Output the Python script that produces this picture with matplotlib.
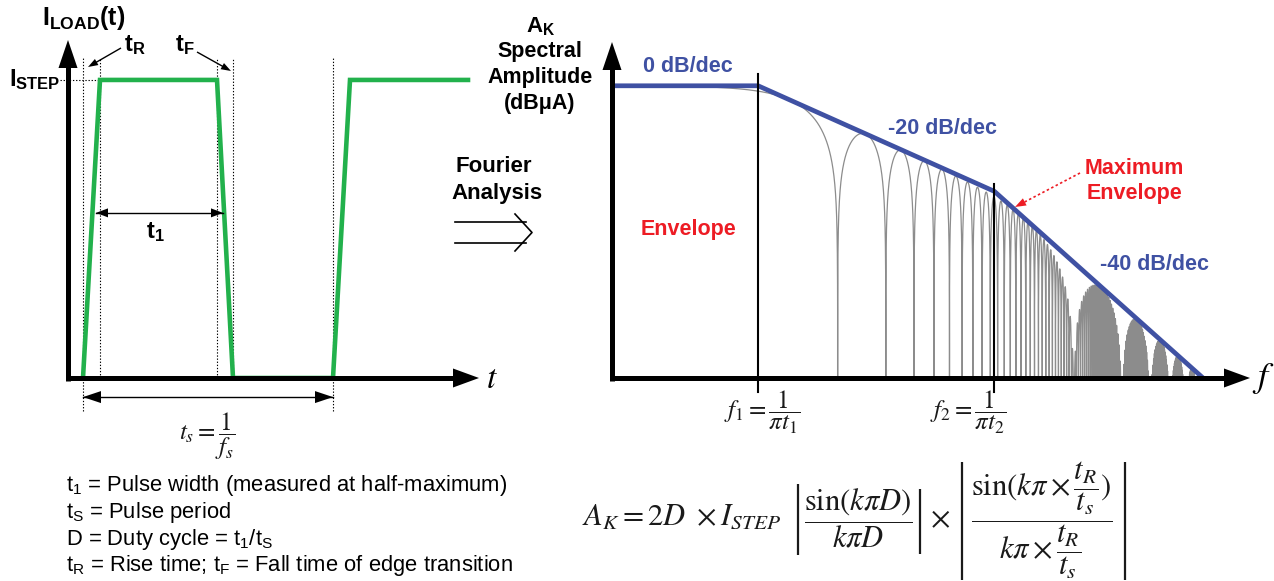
import numpy as np
import matplotlib
matplotlib.use("Agg")
import matplotlib.pyplot as plt

# ── figure / fonts ────────────────────────────────────────────────────────────
W, H = 1274, 581
plt.rcParams["font.family"] = ["Liberation Sans", "DejaVu Sans"]
plt.rcParams["mathtext.fontset"] = "custom"
plt.rcParams["mathtext.rm"] = "Liberation Sans"
plt.rcParams["mathtext.bf"] = "Liberation Sans:bold"
plt.rcParams["mathtext.it"] = "Liberation Sans:italic"

GREEN = "#22b14c"
BLUE = "#3f51a3"
RED = "#ed1c24"
GRAY = "#8c8c8c"
INK = "#1a1a1a"

# ── data: load-current pulse train (time in periods, current in I_STEP) ──────
PULSE_T = [0.0, 0.068, 0.536, 0.600, 1.000, 1.068, 1.540]
PULSE_I = [0.0, 1.0, 1.0, 0.0, 0.0, 1.0, 1.0]
EDGE_T = [0.0, 0.068, 0.536, 0.600, 1.000]        # dotted markers
T1_SPAN = [0.052, 0.560]                            # pulse width arrow
TS_SPAN = [0.0, 1.0]                                # period arrow

# ── data: spectral envelope (f normalised to f1, amplitude in dB) ────────────
F1 = 1.0
F2 = 30.0
ENV_F = [0.122, F1, F2, 603.0]
ENV_DB = [0.0, 0.0, -29.5, -81.6]

TEXT_LINES = [
    r"t$_1$ = Pulse width (measured at half-maximum)",
    r"t$_\mathrm{S}$ = Pulse period",
    r"D = Duty cycle = t$_1$/t$_\mathrm{S}$",
    r"t$_\mathrm{R}$ = Rise time; t$_\mathrm{F}$ = Fall time of edge transition",
]

fig = plt.figure(figsize=(W / 100, H / 100), dpi=100)


def box(l, t, r, b):
    return [l / W, 1 - b / H, (r - l) / W, (b - t) / H]


axL = fig.add_axes(box(68, 40, 478, 378))
axL.set_xlim(-0.06, 1.58)
axL.set_ylim(0, 1.134)
axL.axis("off")

axS = fig.add_axes(box(612, 50, 1248, 378))
axS.set_xscale("log")
axS.set_xlim(0.122, 1155)
axS.set_ylim(-81.65, 10)
axS.axis("off")

ov = fig.add_axes([0, 0, 1, 1])
ov.set_xlim(0, W)
ov.set_ylim(H, 0)
ov.axis("off")


def to_px(ax, x, y):
    X, Y = ax.transData.transform((x, y))
    return X, H - Y


def head(tip, d, length, width, color="black"):
    tx, ty = tip
    dx, dy = d
    n = np.hypot(dx, dy)
    dx, dy = dx / n, dy / n
    bx, by = tx - dx * length, ty - dy * length
    px, py = -dy * width / 2, dx * width / 2
    ov.fill([tx, bx + px, bx - px], [ty, by + py, by - py], color=color, lw=0, zorder=6)


def arrow(p0, p1, lw, length, width, color="black", ls="-"):
    d = (p1[0] - p0[0], p1[1] - p0[1])
    n = np.hypot(*d)
    end = (p1[0] - d[0] / n * length * 0.8, p1[1] - d[1] / n * length * 0.8)
    ov.plot([p0[0], end[0]], [p0[1], end[1]], color=color, lw=lw, ls=ls,
            solid_capstyle="butt", zorder=5)
    head(p1, d, length, width, color)


def dbl_arrow(p0, p1, lw, length, width):
    d = (p1[0] - p0[0], p1[1] - p0[1])
    ov.plot([p0[0], p1[0]], [p0[1], p1[1]], color="black", lw=lw, zorder=5)
    head(p1, d, length, width)
    head(p0, (-d[0], -d[1]), length, width)


# ── left panel ────────────────────────────────────────────────────────────────
for t in EDGE_T:
    lo = -0.11 if t in (EDGE_T[0], EDGE_T[-1]) else 0.0
    axL.plot([t, t], [lo, 1.074], color="black", lw=0.8, ls=(0, (1.2, 1.6)),
             clip_on=False, zorder=1)
axL.plot([-0.092, PULSE_T[1]], [1, 1], color="black", lw=0.8, ls=(0, (1.2, 1.6)),
         clip_on=False, zorder=1)
axL.plot(PULSE_T, PULSE_I, color=GREEN, lw=3.3, clip_on=False, zorder=3,
         solid_joinstyle="miter")

# axes arrows (left)
ov.plot([68, 68], [381, 62], color="black", lw=3.6, solid_capstyle="butt")
head((68, 40), (0, -1), 28, 19)
ov.plot([66, 456], [378, 378], color="black", lw=3.6, solid_capstyle="butt")
head((479, 378), (1, 0), 26, 19)
ov.text(492, 379, r"$t$", math_fontfamily="stix", fontsize=24, ha="center",
        va="center")

# t1 and ts spans
a = to_px(axL, T1_SPAN[0], 0.554)
b = to_px(axL, T1_SPAN[1], 0.554)
dbl_arrow(a, b, 1.0, 12, 9)
a = to_px(axL, TS_SPAN[0], -0.064)
b = to_px(axL, TS_SPAN[1], -0.064)
dbl_arrow(a, b, 1.0, 18, 12)

# rise / fall annotations
arrow((121, 48), (88, 67), 1.0, 10, 7)
arrow((197, 52), (231, 71), 1.0, 10, 7)

ov.text(84, 18, r"$\mathbf{I_{LOAD}(t)}$", fontsize=18, ha="center", va="center")
ov.text(135, 45, r"$\mathbf{t_R}$", fontsize=17, ha="center", va="center")
ov.text(185, 45, r"$\mathbf{t_F}$", fontsize=17, ha="center", va="center")
ov.text(35, 80, r"$\mathbf{I_{STEP}}$", fontsize=17, ha="center", va="center")
ov.text(155, 232, r"$\mathbf{t_1}$", fontsize=17, ha="center", va="center")
ov.text(207, 436, r"$t_s = \dfrac{1}{f_s}$", math_fontfamily="stix", fontsize=18,
        ha="center", va="center", color=INK)

for i, line in enumerate(TEXT_LINES):
    ov.text(66, 486 + i * 26.5, line, fontsize=15.8, ha="left", va="center")

# ── Fourier analysis arrow ────────────────────────────────────────────────────
ov.text(494, 167, "Fourier", fontsize=16, fontweight="bold", ha="center", va="center")
ov.text(497, 194, "Analysis", fontsize=16, fontweight="bold", ha="center", va="center")
ov.plot([455, 526], [222, 222], color="black", lw=1.2)
ov.plot([455, 526], [243, 243], color="black", lw=1.2)
ov.plot([515, 532, 515], [214, 232.5, 251], color="black", lw=1.2)

# ── right panel: spectrum ─────────────────────────────────────────────────────
# grey curve = the A_K expression shown on the chart (continuous in f),
# with its nulls added explicitly so they reach the axis
f = np.concatenate([
    np.geomspace(ENV_F[0], 1155, 6000),
    np.linspace(ENV_F[0], 1155, 400000),
    np.arange(1, 400) * np.pi * F1,
    np.arange(1, 15) * np.pi * F2,
])
f = np.sort(f)
g = np.abs(np.sinc(f / (np.pi * F1))) * np.abs(np.sinc(f / (np.pi * F2)))
g_db = 20 * np.log10(np.maximum(g, 1e-12))
axS.plot(f, g_db, color=GRAY, lw=0.9, zorder=1)
axS.plot(ENV_F, ENV_DB, color=BLUE, lw=3.4, zorder=3, solid_capstyle="butt")
axS.plot([F1, F1], [3.4, -85.6], color="black", lw=1.5, clip_on=False, zorder=4)
axS.plot([F2, F2], [-27.4, -85.6], color="black", lw=1.5, clip_on=False, zorder=4)

# axes arrows (right)
ov.plot([612, 612], [381, 62], color="black", lw=3.6, solid_capstyle="butt")
head((612, 42), (0, -1), 28, 19)
ov.plot([610, 1226], [378, 378], color="black", lw=3.6, solid_capstyle="butt")
head((1250, 378), (1, 0), 26, 19)
ov.text(1263, 379, r"$f$", math_fontfamily="stix", fontsize=26, ha="center",
        va="center")

ov.text(541, 27, r"$\mathbf{A_K}$", fontsize=16, ha="center", va="center")
for y, s in zip([51, 78, 104], ["Spectral", "Amplitude", "(dBμA)"]):
    ov.text(540, y, s, fontsize=15.5, fontweight="bold", ha="center", va="center")

ov.text(688, 67, "0 dB/dec", color=BLUE, fontsize=15.5, fontweight="bold",
        ha="center", va="center")
ov.text(942, 128, "-20 dB/dec", color=BLUE, fontsize=15.5, fontweight="bold",
        ha="center", va="center")
ov.text(1155, 265, "-40 dB/dec", color=BLUE, fontsize=15.5, fontweight="bold",
        ha="center", va="center")
ov.text(688, 230, "Envelope", color=RED, fontsize=15.5, fontweight="bold",
        ha="center", va="center")
ov.text(1134, 168, "Maximum", color=RED, fontsize=15.5, fontweight="bold",
        ha="center", va="center")
ov.text(1134, 194, "Envelope", color=RED, fontsize=15.5, fontweight="bold",
        ha="center", va="center")
arrow((1080, 173), (1015, 207), 1.2, 11, 8, color=RED, ls=(0, (1.5, 1.5)))

ov.text(762, 412, r"$f_1 = \dfrac{1}{\pi t_1}$", math_fontfamily="stix",
        fontsize=18, ha="center", va="center", color=INK)
ov.text(968, 412, r"$f_2 = \dfrac{1}{\pi t_2}$", math_fontfamily="stix",
        fontsize=18, ha="center", va="center", color=INK)

# ── A_K expression, built from pieces so the |..| bars stay thin ─────────────
FS = 22
ov.text(582, 525, r"$A_K = 2D\ \times I_{STEP}$", math_fontfamily="stix",
        fontsize=FS, ha="left", va="baseline", color=INK)
ov.text(858, 518, r"$\dfrac{\sin(k\pi D)}{k\pi D}$", math_fontfamily="stix",
        fontsize=FS, ha="center", va="center", color=INK)
ov.text(940, 519, r"$\times$", math_fontfamily="stix", fontsize=FS,
        ha="center", va="center", color=INK)
ov.text(1042, 520,
        r"$\dfrac{\sin(k\pi \times \dfrac{t_R}{t_s})}{k\pi \times \dfrac{t_R}{t_s}}$",
        math_fontfamily="stix", fontsize=FS, ha="center", va="center", color=INK)
for x, y0, y1 in [(798, 484, 555), (920, 489, 554), (962, 462, 580), (1125, 462, 580)]:
    ov.plot([x, x], [y0, y1], color=INK, lw=1.6, solid_capstyle="butt")

fig.savefig("out.png", dpi=100)
